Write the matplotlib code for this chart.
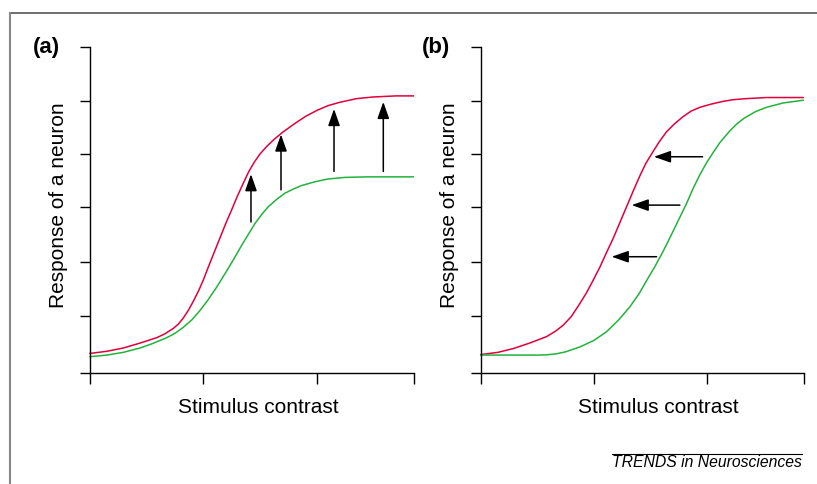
import matplotlib
matplotlib.use('Agg')
import matplotlib.pyplot as plt
from matplotlib.lines import Line2D

plt.rcParams['font.family'] = ['Liberation Sans', 'DejaVu Sans']

# Colores
rojo = '#E2003C'
verde = '#22B33C'

# Ejes comunes
x_max = 2.86
xticks = [0, 1, 2, x_max]
yticks = [0, 1.05, 2.05, 3.05, 4.03, 5.0, 6.0]

# Panel (a): aumento de respuesta
a_rojo_x = [0, 0.15, 0.294, 0.441, 0.589, 0.66, 0.735, 0.78, 0.823, 0.87,
            0.912, 0.96, 1.0, 1.05, 1.1, 1.15, 1.2, 1.25, 1.3, 1.35, 1.4,
            1.45, 1.5, 1.56, 1.62, 1.7, 1.8, 1.9, 2.0, 2.1, 2.2, 2.354, 2.5,
            2.7, 2.853]
a_rojo_y = [0.36, 0.40, 0.46, 0.55, 0.65, 0.72, 0.82, 0.90, 1.01, 1.16,
            1.32, 1.52, 1.71, 1.98, 2.24, 2.50, 2.76, 3.0, 3.25, 3.48, 3.70,
            3.88, 4.03, 4.17, 4.29, 4.43, 4.58, 4.72, 4.83, 4.92, 4.98, 5.05,
            5.08, 5.10, 5.10]
a_verde_x = [0, 0.15, 0.294, 0.441, 0.55, 0.677, 0.75, 0.823, 0.9, 0.971,
             1.04, 1.118, 1.207, 1.27, 1.339, 1.4, 1.456, 1.52, 1.574, 1.65,
             1.721, 1.8, 1.868, 1.986, 2.1, 2.25, 2.45, 2.853]
a_verde_y = [0.30, 0.33, 0.38, 0.46, 0.54, 0.65, 0.73, 0.84, 0.98, 1.15,
             1.34, 1.58, 1.88, 2.10, 2.35, 2.56, 2.75, 2.93, 3.06, 3.20,
             3.31, 3.39, 3.45, 3.52, 3.57, 3.60, 3.61, 3.61]

# Flechas verticales (x, y inicio, y punta)
a_flecha_x = [1.421, 1.686, 2.154, 2.589]
a_flecha_y0 = [2.78, 3.37, 3.71, 3.71]
a_flecha_y1 = [3.66, 4.39, 4.86, 4.99]

# Panel (b): desplazamiento de la curva
b_rojo_x = [0, 0.15, 0.286, 0.43, 0.581, 0.66, 0.728, 0.80, 0.876, 0.935,
            0.994, 1.053, 1.112, 1.171, 1.23, 1.289, 1.35, 1.407, 1.46, 1.525,
            1.58, 1.643, 1.71, 1.79, 1.86, 1.938, 2.04, 2.144, 2.233, 2.35,
            2.528, 2.852]
b_rojo_y = [0.34, 0.38, 0.45, 0.55, 0.67, 0.77, 0.88, 1.04, 1.28, 1.48,
            1.71, 1.95, 2.22, 2.48, 2.77, 3.06, 3.36, 3.63, 3.86, 4.08,
            4.26, 4.44, 4.58, 4.72, 4.82, 4.89, 4.95, 5.0, 5.03, 5.05,
            5.07, 5.07]
b_verde_x = [0, 0.52, 0.581, 0.66, 0.75, 0.876, 1.0, 1.112, 1.22, 1.319,
             1.40, 1.466, 1.54, 1.613, 1.68, 1.75, 1.82, 1.879, 1.938, 2.0,
             2.06, 2.115, 2.2, 2.263, 2.33, 2.43, 2.528, 2.675, 2.852]
b_verde_y = [0.33, 0.33, 0.335, 0.35, 0.39, 0.48, 0.60, 0.76, 0.98, 1.22,
             1.46, 1.70, 1.96, 2.24, 2.52, 2.82, 3.12, 3.40, 3.65, 3.88,
             4.07, 4.24, 4.45, 4.58, 4.69, 4.81, 4.89, 4.97, 5.02]

# Flechas horizontales (y, x inicio, x punta)
b_flecha_y = [3.98, 3.09, 2.14]
b_flecha_x0 = [1.962, 1.761, 1.555]
b_flecha_x1 = [1.531, 1.334, 1.157]

fig = plt.figure(figsize=(8.17, 4.84), dpi=100, facecolor='white')

ax_a = fig.add_axes([90 / 817, 1 - 373 / 484, 324 / 817, 326 / 484])
ax_b = fig.add_axes([481 / 817, 1 - 373 / 484, 323 / 817, 326 / 484])

estilo = '-|>,head_length=0.85,head_width=0.3'

for ax in (ax_a, ax_b):
    ax.set_xlim(0, x_max)
    ax.set_ylim(0, 6)
    ax.set_xticks(xticks)
    ax.set_yticks(yticks)
    ax.set_xticklabels([])
    ax.set_yticklabels([])
    ax.spines['top'].set_visible(False)
    ax.spines['right'].set_visible(False)
    ax.spines['left'].set_linewidth(1.0)
    ax.spines['bottom'].set_linewidth(1.0)
    ax.tick_params(axis='x', direction='out', length=8, width=1.0)
    ax.tick_params(axis='y', direction='out', length=7, width=1.0)

ax_a.plot(a_rojo_x, a_rojo_y, color=rojo, lw=1.1, clip_on=False)
ax_a.plot(a_verde_x, a_verde_y, color=verde, lw=1.1, clip_on=False)
for x, y0, y1 in zip(a_flecha_x, a_flecha_y0, a_flecha_y1):
    ax_a.annotate('', xy=(x, y1), xytext=(x, y0),
                  arrowprops=dict(arrowstyle=estilo, color='black', lw=1.1,
                                  shrinkA=0, shrinkB=0, mutation_scale=12))

ax_b.plot(b_rojo_x, b_rojo_y, color=rojo, lw=1.1, clip_on=False)
ax_b.plot(b_verde_x, b_verde_y, color=verde, lw=1.1, clip_on=False)
for y, x0, x1 in zip(b_flecha_y, b_flecha_x0, b_flecha_x1):
    ax_b.annotate('', xy=(x1, y), xytext=(x0, y),
                  arrowprops=dict(arrowstyle=estilo, color='black', lw=1.1,
                                  shrinkA=0, shrinkB=0, mutation_scale=12))

# Textos
fig.text(46 / 817, 1 - 48 / 484, '(a)', fontsize=16, fontweight='bold',
         ha='center', va='center')
fig.text(436 / 817, 1 - 48 / 484, '(b)', fontsize=16, fontweight='bold',
         ha='center', va='center')
fig.text(58 / 817, 1 - 205 / 484, 'Response of a neuron', fontsize=15,
         rotation=90, ha='center', va='center')
fig.text(450 / 817, 1 - 205 / 484, 'Response of a neuron', fontsize=15,
         rotation=90, ha='center', va='center')
fig.text(258 / 817, 1 - 413 / 484, 'Stimulus contrast', fontsize=15,
         ha='center', va='baseline')
fig.text(658 / 817, 1 - 413 / 484, 'Stimulus contrast', fontsize=15,
         ha='center', va='baseline')
fig.text(802 / 817, 1 - 467 / 484, 'TRENDS in Neurosciences', fontsize=11.3,
         style='italic', ha='right', va='baseline')

# Marco y línea sobre el pie
fig.add_artist(Line2D([10 / 817, 1], [1 - 12.5 / 484] * 2, color='#555555',
                      lw=1.2, transform=fig.transFigure))
fig.add_artist(Line2D([10 / 817] * 2, [0, 1 - 12.5 / 484], color='#888888',
                      lw=1.5, transform=fig.transFigure))
fig.add_artist(Line2D([612 / 817, 802 / 817], [1 - 453.5 / 484] * 2,
                      color='black', lw=0.8, transform=fig.transFigure))

fig.savefig('out.png', dpi=100, facecolor='white')
